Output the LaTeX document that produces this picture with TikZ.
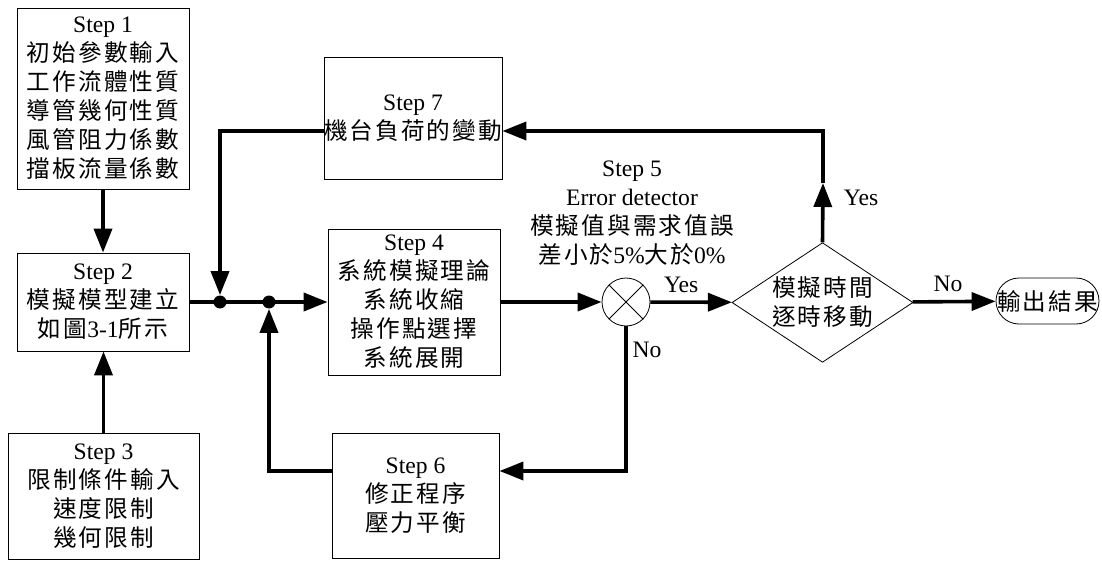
\documentclass[tikz,border=0pt]{standalone}
\usepackage{fontspec}
\setmainfont{Liberation Serif}
\newfontfamily\cjk[LetterSpace=9]{Noto Sans CJK TC}
\newcommand{\zh}[1]{{\cjk #1}}
\usetikzlibrary{shapes}
\usetikzlibrary{positioning}
\usetikzlibrary{arrows.meta}
\tikzset{
    mynode/.style = {rectangle, thin, draw=black, align=center, fill=white, inner sep=0pt, font=\fontsize{11.8}{14.5}\selectfont},
    mynodes/.style = {circle, thin, draw=black, fill=white, inner sep=0pt, minimum size=24pt},
    mynoded/.style = {diamond, thin, draw=black, align=center, fill=white, inner sep=-4pt, minimum width=90.5pt, minimum height=55.5pt, font=\fontsize{11.8}{14.5}\selectfont},
    mynodee/.style = {rectangle, rounded corners=11.5pt, thin, draw=black, align=center, inner sep=0pt, minimum width=51.5pt, minimum height=23pt, font=\fontsize{11.8}{14.5}\selectfont},
    mynodej/.style = {circle, fill=black, inner sep=0pt, minimum size=6.5pt},
    mylabel/.style = {align=center, inner sep=0pt, font=\fontsize{11.8}{14.5}\selectfont},
    edgen/.style = {-, line width=1.8pt, black},
    edgea/.style = {-{Triangle[length=12pt,width=9pt]}, line width=1.8pt, black}
}

\begin{document}
\begin{tikzpicture}[x=0.5pt, y=-0.5pt]
  \useasboundingbox (0,0) rectangle (1102,561);
  % steps
  \node[mynode, minimum width=86pt, minimum height=90.5pt] (s1) at (103,98.5)
    {Step 1\\\zh{初始參數輸入}\\\zh{工作流體性質}\\\zh{導管幾何性質}\\\zh{風管阻力係數}\\\zh{擋板流量係數}};
  \node[mynode, minimum width=86pt, minimum height=49pt] (s2) at (103,302)
    {Step 2\\\zh{模擬模型建立}\\\zh{如圖}3-1\zh{所示}};
  \node[mynode, minimum width=95.5pt, minimum height=63pt] (s3) at (103.5,496)
    {Step 3\\\zh{限制條件輸入}\\\zh{速度限制}\\\zh{幾何限制}};
  \node[mynode, minimum width=86pt, minimum height=73pt] (s4) at (414,302)
    {Step 4\\\zh{系統模擬理論}\\\zh{系統收縮}\\\zh{操作點選擇}\\\zh{系統展開}};
  \node[mynode, minimum width=83.5pt, minimum height=62.5pt] (s6) at (415.5,495.5)
    {Step 6\\\zh{修正程序}\\\zh{壓力平衡}};
  \node[mynode, minimum width=86pt, minimum height=61pt] (s7) at (413,118)
    {Step 7\\\zh{機台負荷的變動}};
  % error detector
  \node[mynodes] (sum) at (626,302) {};
  \draw[thin] (sum.45) -- (sum.225) (sum.135) -- (sum.-45);
  \node[mylabel] (s5) at (632,213)
    {Step 5\\Error detector\\\zh{模擬值與需求值誤}\\\zh{差小於}5\%\zh{大於}0\%};
  \node[mynoded] (dec) at (822.5,302.5) {\zh{模擬時間}\\\zh{逐時移動}};
  \node[mynodee] (out) at (1047.5,301) {\zh{輸出結果}};
  % junctions
  \node[mynodej] (j1) at (220,302) {};
  \node[mynodej] (j2) at (269,302) {};
  \coordinate (c7) at (823,131);
  \coordinate (c6) at (626,471);
  \coordinate (cy) at (823,183);

  \draw[edgea] (s1) -- (s2);
  \draw[edgea] (s3.north) -- (s3.north |- s2.south);
  \draw[edgea] (s2.east) -- (s4.west);
  \draw[edgea] (s4) -- (sum);
  \draw[edgea] (sum) -- node[mylabel, above=4pt, xshift=-5pt] {Yes} (dec);
  \draw[edgea] (dec) -- node[mylabel, above=4pt, xshift=-3pt] {No} (out);
  \draw[edgea] (dec.north) -- (cy); % forward
  \draw[edgea] (cy) -- (c7) -- (c7 -| s7.east);
  \node[mylabel] (yes) at (861,198) {Yes};
  \draw[edgea] (c7 -| s7.west) -- (c7 -| j1) -- (j1); % back
  \draw[edgea] (sum.south) -- (c6) -- (c6 -| s6.east);
  \node[mylabel] (no) at (647,350) {No};
  \draw[edgea] (c6 -| s6.west) -- (c6 -| j2) -- (j2); % back
\end{tikzpicture}
\end{document}
